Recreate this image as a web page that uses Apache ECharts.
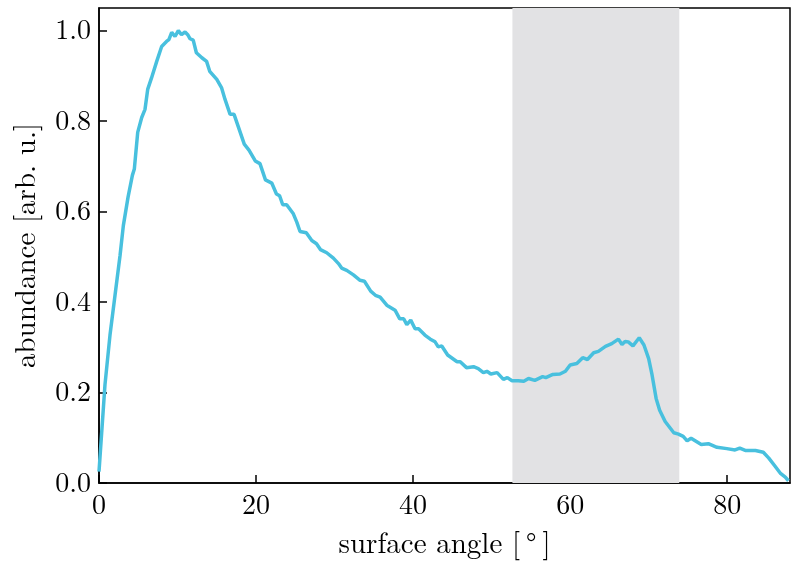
<!DOCTYPE html>
<html>
<head>
<meta charset="utf-8">
<script src="https://cdn.jsdelivr.net/npm/echarts@6/dist/echarts.min.js"></script>
<style>
html,body{margin:0;padding:0;background:#fff;}
#chart{width:792px;height:564px;}
</style>
</head>
<body>
<div id="chart"></div>
<script>
const angles = [0.0,0.76,1.4,2.04,2.68,3.1,3.7,4.25,4.5,4.93,5.44,5.86,6.2,6.7,7.35,7.98,8.6,8.9,9.26,9.68,10.1,10.5,10.96,11.3,11.6,12.0,12.4,13.1,13.7,14.1,15.0,15.6,16.05,16.7,17.2,18.5,19.1,19.9,20.5,21.2,22.0,22.6,23.0,23.4,23.9,24.75,25.2,25.6,26.4,27.1,27.7,28.2,29.0,29.85,30.5,30.9,31.55,32.4,33.25,33.8,34.6,35.2,35.8,36.65,37.7,38.3,38.8,39.2,39.7,40.25,40.7,41.5,42.2,42.8,43.2,43.65,44.4,45.6,46.0,46.8,47.7,48.3,48.95,49.4,49.9,50.7,51.5,52.0,52.6,53.4,54.1,54.7,55.5,56.5,56.9,57.8,58.7,59.4,60.0,60.85,61.6,62.2,63.0,63.6,64.5,64.75,65.3,66.15,66.6,67.0,67.4,68.0,68.8,69.4,70.0,70.4,70.95,71.4,72.1,73.2,73.8,74.4,74.9,75.4,76.7,77.6,78.7,79.96,81.0,81.6,82.3,83.6,84.6,85.3,86.1,86.75,87.4,87.8];
const abundance = [0.025,0.217,0.327,0.415,0.503,0.569,0.632,0.680,0.694,0.775,0.808,0.826,0.870,0.896,0.932,0.965,0.976,0.980,0.996,0.987,1.0,0.991,0.997,0.991,0.982,0.979,0.951,0.940,0.932,0.910,0.892,0.874,0.848,0.815,0.815,0.749,0.736,0.712,0.706,0.670,0.663,0.639,0.635,0.615,0.615,0.595,0.576,0.556,0.553,0.536,0.529,0.516,0.509,0.497,0.485,0.475,0.470,0.460,0.448,0.446,0.424,0.415,0.411,0.393,0.382,0.363,0.363,0.350,0.360,0.341,0.341,0.327,0.318,0.312,0.301,0.303,0.283,0.268,0.268,0.255,0.257,0.253,0.244,0.247,0.241,0.244,0.229,0.233,0.226,0.226,0.225,0.231,0.227,0.235,0.233,0.240,0.241,0.247,0.261,0.264,0.277,0.273,0.288,0.291,0.302,0.299,0.308,0.318,0.306,0.313,0.312,0.303,0.321,0.305,0.275,0.242,0.187,0.161,0.136,0.111,0.108,0.103,0.093,0.099,0.085,0.087,0.079,0.076,0.073,0.077,0.072,0.072,0.068,0.055,0.037,0.022,0.013,0.005];
const shadedRange = [52.65, 73.9];
const xTicks = [0, 20, 40, 60, 80];
const yTicks = [0, 0.2, 0.4, 0.6, 0.8, 1.0];

const FONT = "'Latin Modern Roman','CMU Serif','Liberation Serif',serif";
const chart = echarts.init(document.getElementById('chart'), null, {renderer: 'canvas'});
const data = angles.map((a, i) => [a, abundance[i]]);

chart.setOption({
  animation: false,
  backgroundColor: '#ffffff',
  grid: {left: 99, right: 2, top: 8, bottom: 79, show: true, borderColor: '#000', borderWidth: 1.5, backgroundColor: 'transparent'},
  xAxis: {
    type: 'value', min: 0, max: 88, interval: 20,
    name: 'surface angle [\u2009°\u2009]', nameLocation: 'middle', nameGap: 47,
    nameTextStyle: {fontFamily: FONT, fontSize: 29, color: '#000'},
    axisLine: {show: true, onZero: false, lineStyle: {color: '#000', width: 1.5}},
    axisTick: {show: true, inside: true, length: 8, lineStyle: {color: '#000', width: 1.5}, customValues: xTicks},
    axisLabel: {fontFamily: FONT, fontSize: 28, color: '#000', margin: 8, customValues: xTicks, formatter: v => String(v)},
    splitLine: {show: false}
  },
  yAxis: {
    type: 'value', min: 0, max: 1.05, interval: 0.2,
    name: 'abundance [arb. u.]', nameLocation: 'middle', nameGap: 58,
    nameTextStyle: {fontFamily: FONT, fontSize: 29, color: '#000'},
    axisLine: {show: true, onZero: false, lineStyle: {color: '#000', width: 1.5}},
    axisTick: {show: true, inside: true, length: 8, lineStyle: {color: '#000', width: 1.5}, customValues: yTicks},
    axisLabel: {fontFamily: FONT, fontSize: 28, color: '#000', margin: 8, customValues: yTicks, formatter: v => v.toFixed(1)},
    splitLine: {show: false}
  },
  series: [
    {
      type: 'line', data: [], z: 1, silent: true,
      markArea: {silent: true, itemStyle: {color: '#e2e2e4', opacity: 1},
        data: [[{xAxis: shadedRange[0]}, {xAxis: shadedRange[1]}]]}
    },
    {
      type: 'line', data: data, z: 5, showSymbol: false, symbol: 'none', smooth: false,
      lineStyle: {color: '#48c0de', width: 3.5}, clip: true
    }
  ]
});
</script>
</body>
</html>
